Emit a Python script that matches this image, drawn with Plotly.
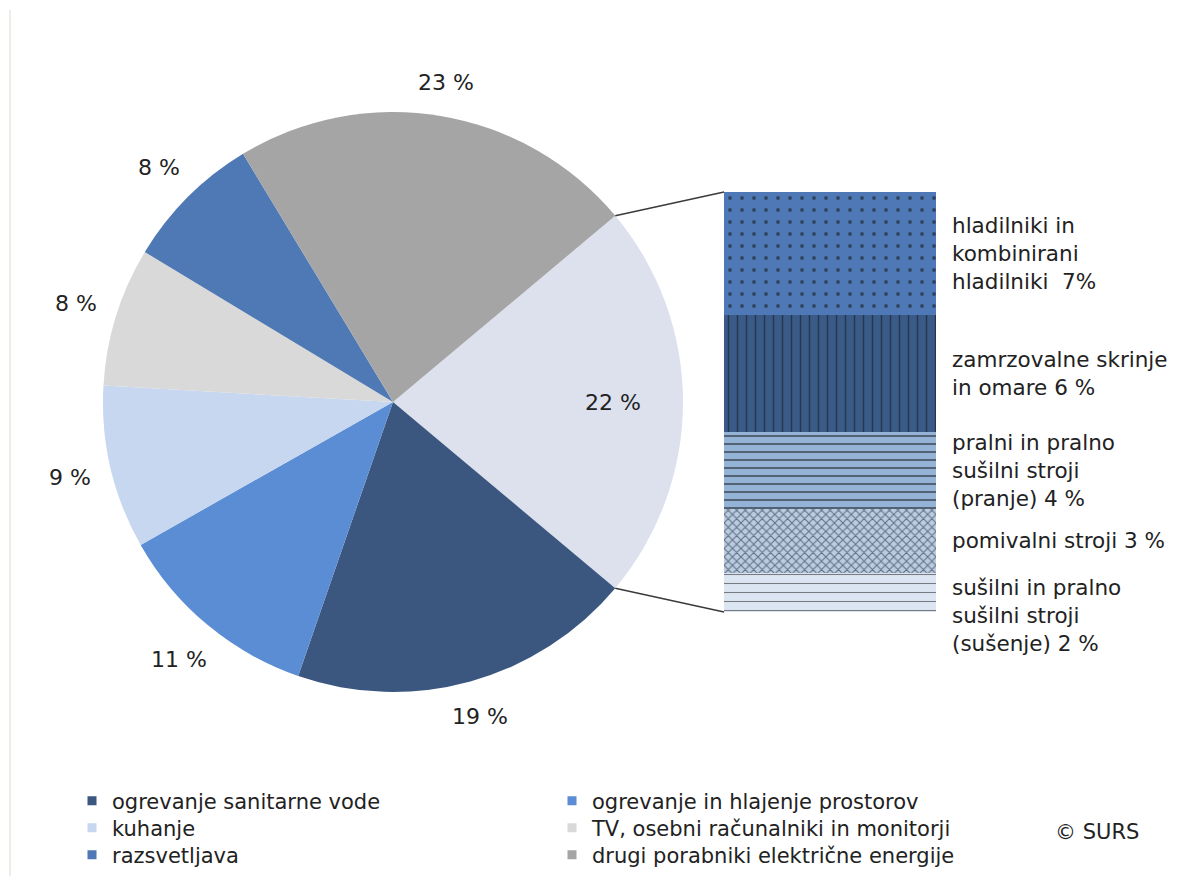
import math
import plotly.graph_objects as go

# ---- data ----
pie_labels = ["ostali gospodinjski aparati", "ogrevanje sanitarne vode",
              "ogrevanje in hlajenje prostorov", "kuhanje",
              "TV, osebni računalniki in monitorji", "razsvetljava",
              "drugi porabniki električne energije"]
pie_values = [22.2, 19.2, 11.5, 9.1, 7.75, 7.7, 22.55]
pie_text = ["22 %", "19 %", "11 %", "9 %", "8 %", "8 %", "23 %"]
pie_colors = ["#DDE1EE", "#3B5780", "#5B8DD5", "#C6D7EF", "#D9D9D9", "#4F79B5", "#A5A5A5"]

# breakdown of the first slice (bottom to top)
bar_labels = ["sušilni in pralno<br>sušilni stroji<br>(sušenje) 2 %",
              "pomivalni stroji 3 %",
              "pralni in pralno<br>sušilni stroji<br>(pranje) 4 %",
              "zamrzovalne skrinje<br>in omare 6 %",
              "hladilniki in<br>kombinirani<br>hladilniki  7%"]
bar_values = [2.07, 3.38, 4.09, 6.16, 6.5]
bar_colors = ["#DCE6F2", "#B8CCE4", "#95B3D7", "#3A5A88", "#4F79B6"]
bar_patterns = ["-", "x", "-", "|", "."]
bar_psize = [9, 6, 8, 9, 12]
bar_solid = [0.12, 0.32, 0.25, 0.16, 0.08]

# legend layout: two columns, three rows
legend_col1 = ["ogrevanje sanitarne vode", "kuhanje", "razsvetljava"]
legend_col2 = ["ogrevanje in hlajenje prostorov", "TV, osebni računalniki in monitorji",
               "drugi porabniki električne energije"]

FONT = "DejaVu Sans"
TXT = "#222222"
LBL = 22

# ---- geometry (reference pixels; page body has an 8px margin) ----
OFF = 8
W, H = 1181 - 2 * OFF, 884 - 2 * OFF
cx, cy, R = 393, 402, 290
bar_px = (724, 936)
bar_py = (192, 612)
leg_cols_px = (72, 552)
leg_rows_px = (801, 828, 855)


def px(x):
    return (x - OFF) / W


def py(y):
    return 1 - (y - OFF) / H


total = sum(pie_values)
rotation = 90 - 360 * pie_values[0] / total / 2

fig = go.Figure()

fig.add_trace(go.Pie(
    labels=pie_labels, values=pie_values, sort=False, direction="clockwise",
    rotation=rotation, marker=dict(colors=pie_colors, line=dict(width=0)),
    textinfo="none", hoverinfo="label", showlegend=False,
    domain=dict(x=[px(cx - R), px(cx + R)], y=[py(cy + R), py(cy - R)]),
))

# stacked bar
for lab, v, c, pat, ps, so in zip(bar_labels, bar_values, bar_colors, bar_patterns,
                                  bar_psize, bar_solid):
    fig.add_trace(go.Bar(
        x=[0], y=[v], width=1, name=lab.replace("<br>", " "),
        marker=dict(color=c, line=dict(width=0),
                    pattern=dict(shape=pat, fgcolor="#111111", size=ps, solidity=so,
                                 fillmode="overlay")),
        showlegend=False, hoverinfo="name",
    ))

# legend entries: one small legend per cell so rows sit exactly
name_to_color = dict(zip(pie_labels, pie_colors))
legend_layout = {}
k = 0
for col, names in enumerate((legend_col1, legend_col2)):
    for row, n in enumerate(names):
        k += 1
        lg = "legend" if k == 1 else f"legend{k}"
        fig.add_trace(go.Scatter(
            x=[None], y=[None], mode="markers", name=n, legend=lg,
            marker=dict(symbol="square", size=9, color=name_to_color[n]),
        ))
        legend_layout[lg] = dict(
            x=px(leg_cols_px[col]), y=py(leg_rows_px[row]), xanchor="left", yanchor="middle",
            bgcolor="rgba(0,0,0,0)", font=dict(family=FONT, size=21, color=TXT),
            itemwidth=30, tracegroupgap=0, traceorder="normal")

annotations = []
# pie percentage labels (outside, a fixed gap from the rim; first one inside)
cum = 0
for i, (v, t) in enumerate(zip(pie_values, pie_text)):
    a = math.radians(rotation + 360 * (cum + v / 2) / total)
    cum += v
    if i == 0:
        r = 0.76 * R
    else:
        ndig = sum(ch.isdigit() for ch in t)
        w = (ndig * 0.636 + 0.318 + 0.95) * LBL
        h = 0.95 * LBL
        r = R + 19 + abs(math.sin(a)) * w / 2 + abs(math.cos(a)) * h / 2
    x = cx + r * math.sin(a)
    y = cy - r * math.cos(a)
    annotations.append(dict(x=px(x), y=py(y), xref="paper", yref="paper", text=t,
                            xanchor="center", yanchor="middle",
                            showarrow=False, font=dict(family=FONT, size=LBL, color=TXT)))

# bar labels
cum = 0
seg_px = (bar_py[1] - bar_py[0]) / sum(bar_values)
for lab, v in zip(bar_labels, bar_values):
    nlines = lab.count("<br>") + 1
    if nlines * 26 > 1.5 * v * seg_px:
        yy, ya = cum + v, "top"
    else:
        yy, ya = cum + v / 2, "middle"
    annotations.append(dict(x=px(950), y=yy, xref="paper", yref="y", text=lab,
                            showarrow=False, xanchor="left", yanchor=ya, align="left",
                            font=dict(family=FONT, size=21.5, color=TXT)))
    cum += v

annotations.append(dict(x=px(1097), y=py(832), xref="paper", yref="paper", text="© SURS",
                        xanchor="center", yanchor="middle",
                        showarrow=False, font=dict(family=FONT, size=21, color=TXT)))

# connector lines from pie slice edges to the bar corners
a0 = math.radians(rotation)
a1 = math.radians(rotation + 360 * pie_values[0] / total)
shapes = [
    dict(type="line", xref="paper", yref="paper",
         x0=px(cx + R * math.sin(a0)), y0=py(cy - R * math.cos(a0)),
         x1=px(bar_px[0]), y1=py(bar_py[0]), line=dict(color="#3A3A3A", width=1.5)),
    dict(type="line", xref="paper", yref="paper",
         x0=px(cx + R * math.sin(a1)), y0=py(cy - R * math.cos(a1)),
         x1=px(bar_px[0]), y1=py(bar_py[1]), line=dict(color="#3A3A3A", width=1.5)),
    dict(type="line", xref="paper", yref="paper", x0=px(10), x1=px(10), y0=py(10), y1=py(884),
         line=dict(color="#EFEDE6", width=2)),
]

fig.update_layout(
    width=W, height=H, margin=dict(l=0, r=0, t=0, b=0, autoexpand=False),
    paper_bgcolor="white", plot_bgcolor="rgba(0,0,0,0)",
    barmode="stack", bargap=0,
    xaxis=dict(domain=[px(bar_px[0]), px(bar_px[1])], range=[-0.5, 0.5], visible=False,
               fixedrange=True),
    yaxis=dict(domain=[py(bar_py[1]), py(bar_py[0])], range=[0, sum(bar_values)],
               visible=False, fixedrange=True),
    annotations=annotations, shapes=shapes,
    font=dict(family=FONT),
    **legend_layout,
)

fig.write_html("out.html")
